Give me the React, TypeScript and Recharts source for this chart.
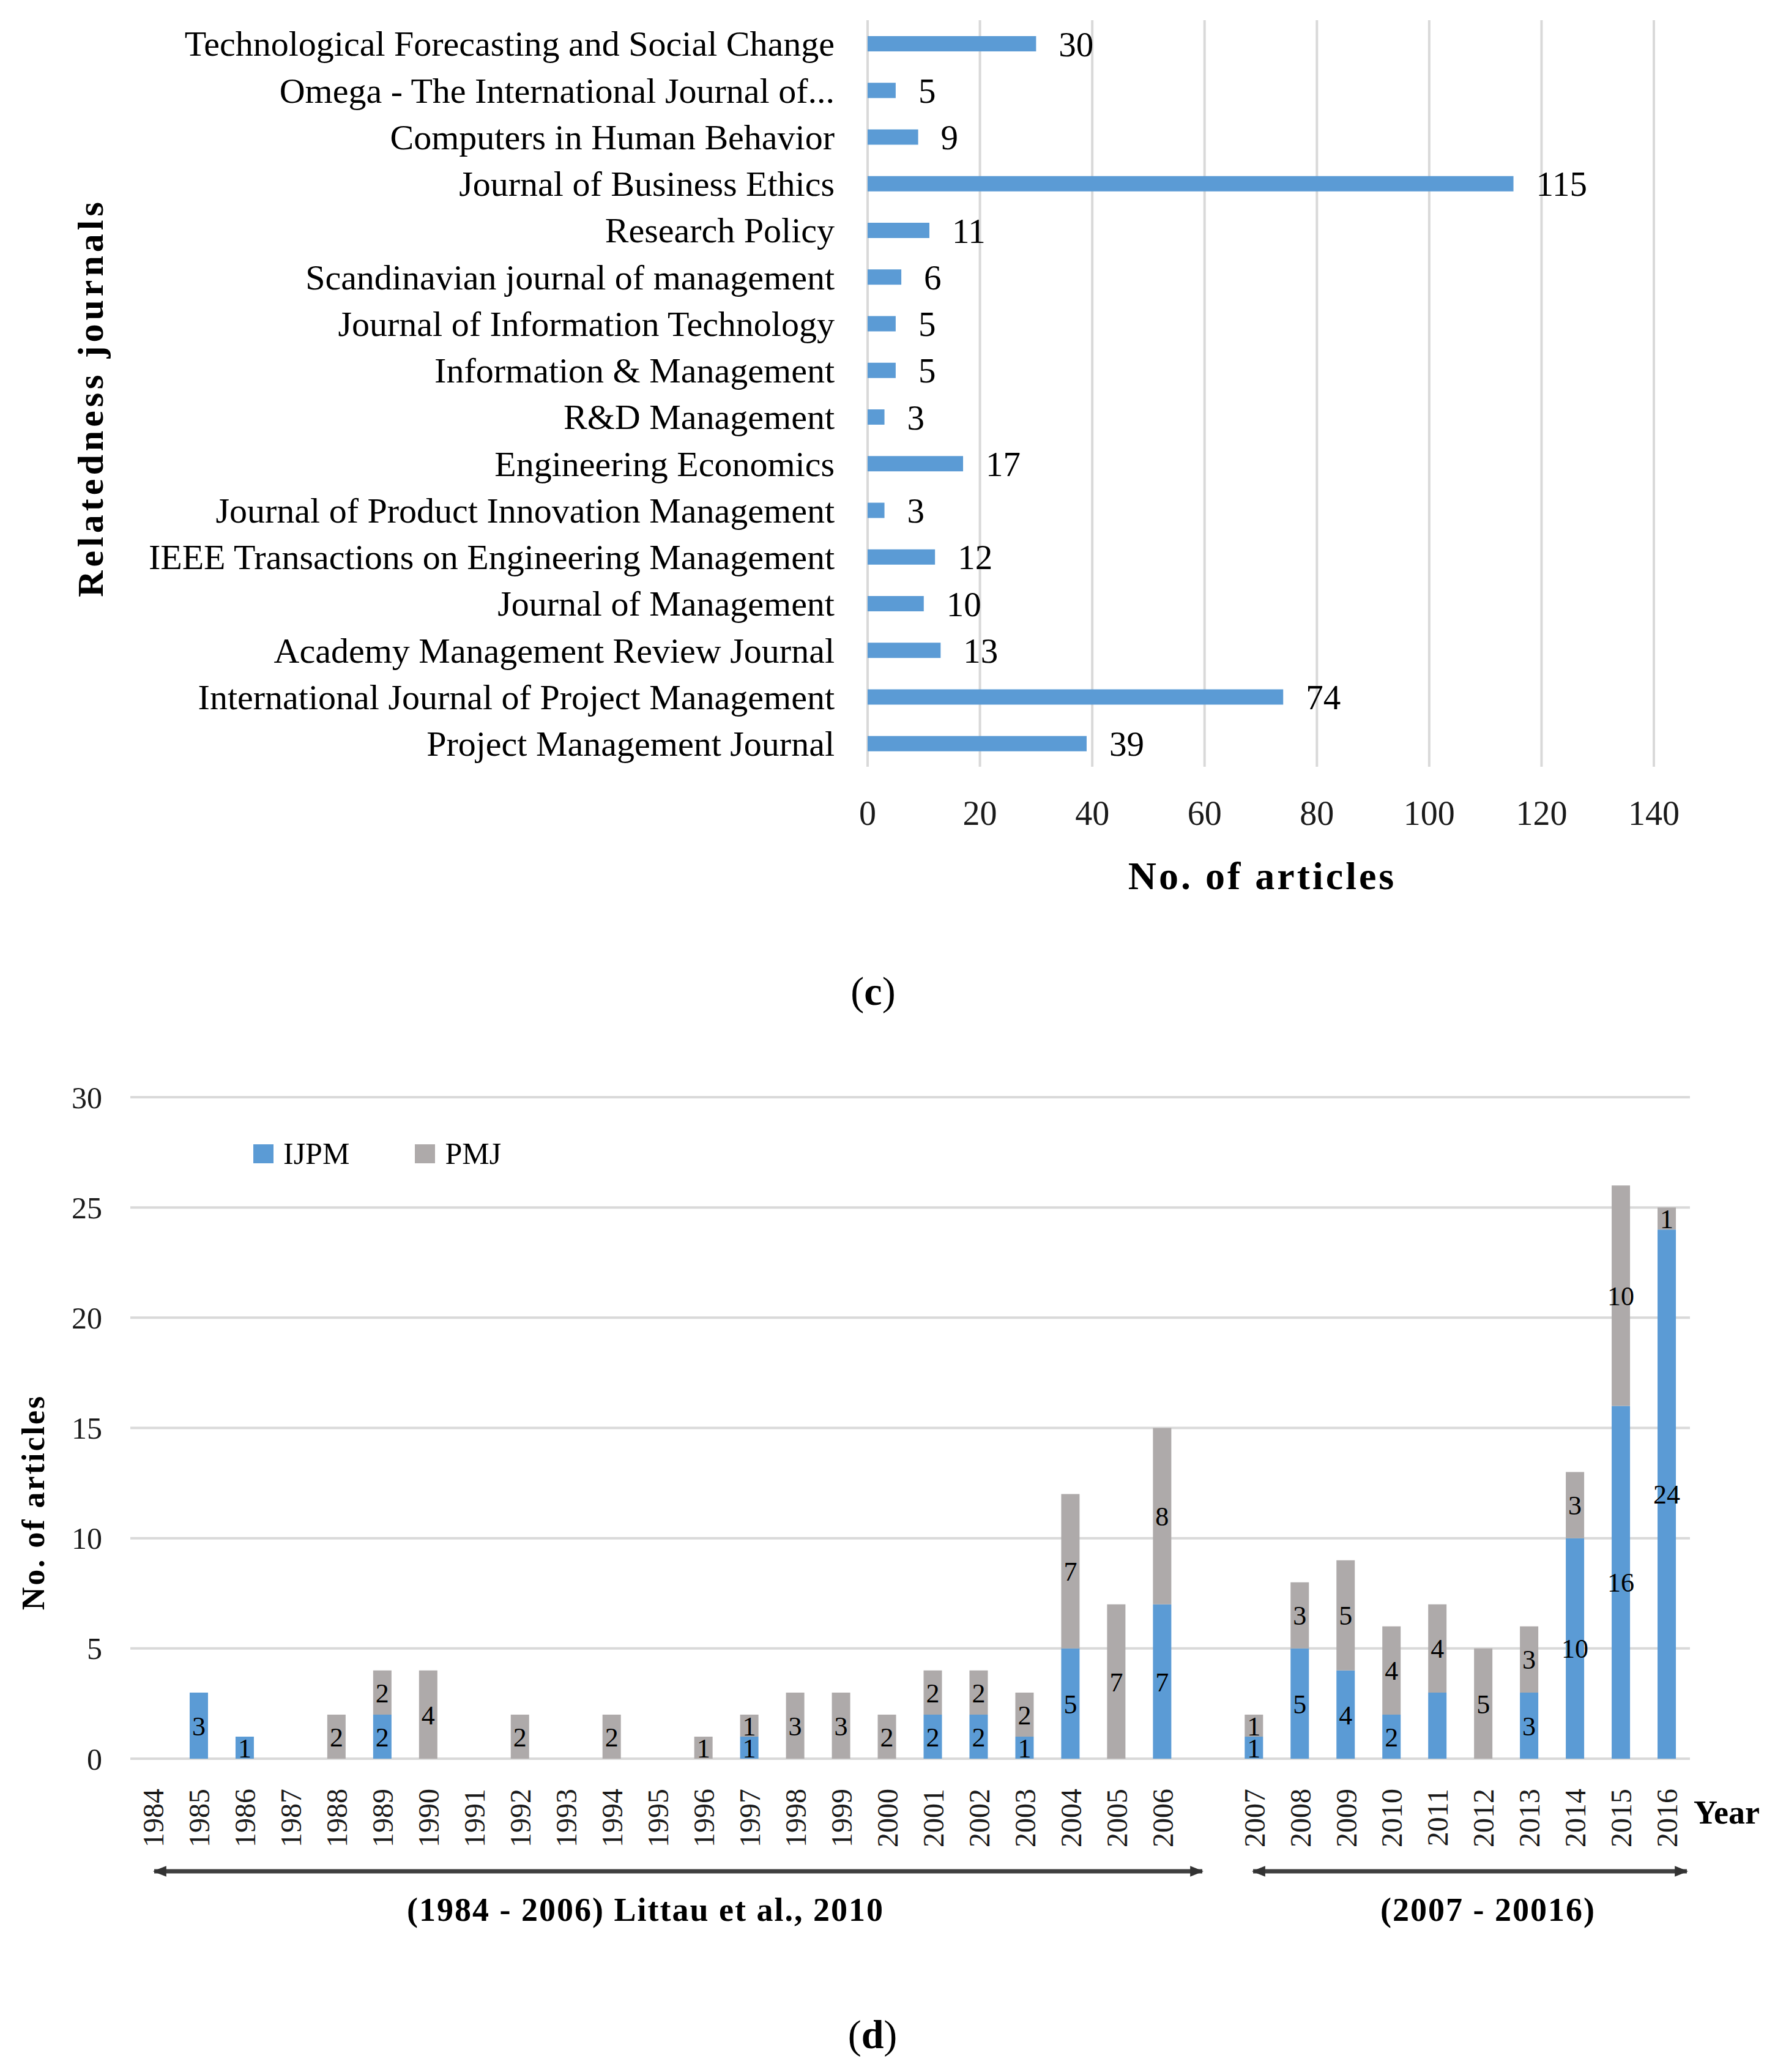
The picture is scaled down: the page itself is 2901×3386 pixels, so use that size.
import React from 'react';
import { BarChart, Bar, XAxis, YAxis, CartesianGrid, LabelList, Legend } from 'recharts';

// ---------- Panel (c) data ----------
const journals = [
  'Technological Forecasting and Social Change',
  'Omega - The International Journal of...',
  'Computers in Human Behavior',
  'Journal of Business Ethics',
  'Research Policy',
  'Scandinavian journal of management',
  'Journal of Information Technology',
  'Information & Management',
  'R&D Management',
  'Engineering Economics',
  'Journal of Product Innovation Management',
  'IEEE Transactions on Engineering Management',
  'Journal of Management',
  'Academy Management Review Journal',
  'International Journal of Project Management',
  'Project Management Journal',
];
const articleCounts = [30, 5, 9, 115, 11, 6, 5, 5, 3, 17, 3, 12, 10, 13, 74, 39];
const countTicks = [0, 20, 40, 60, 80, 100, 120, 140];

// ---------- Panel (d) data ----------
const years = [
  '1984', '1985', '1986', '1987', '1988', '1989', '1990', '1991', '1992', '1993', '1994', '1995',
  '1996', '1997', '1998', '1999', '2000', '2001', '2002', '2003', '2004', '2005', '2006', '',
  '2007', '2008', '2009', '2010', '2011', '2012', '2013', '2014', '2015', '2016',
];
const ijpmCounts = [0, 3, 1, 0, 0, 2, 0, 0, 0, 0, 0, 0, 0, 1, 0, 0, 0, 2, 2, 1, 5, 0, 7, 0, 1, 5, 4, 2, 3, 0, 3, 10, 16, 24];
const pmjCounts = [0, 0, 0, 0, 2, 2, 4, 0, 2, 0, 2, 0, 1, 1, 3, 3, 2, 2, 2, 2, 7, 7, 8, 0, 1, 3, 5, 4, 4, 5, 3, 3, 10, 1];
const unlabeledIjpmYears = ['2011'];
const yearTicks = [0, 5, 10, 15, 20, 25, 30];

const FONT = '"Liberation Serif", "Times New Roman", serif';
const BLUE = '#5B9BD5';
const GRAY = '#AEAAAA';
const GRID = '#D9D9D9';

const journalData = journals.map((name, i) => ({ name, count: articleCounts[i] }));
const yearData = years.map((year, i) => ({
  year,
  IJPM: ijpmCounts[i],
  PMJ: pmjCounts[i],
  ijpmLabel: ijpmCounts[i] > 0 && !unlabeledIjpmYears.includes(year) ? ijpmCounts[i] : null,
  pmjLabel: pmjCounts[i] > 0 ? pmjCounts[i] : null,
}));

const JournalTick = (props: any) => {
  const { x, y, payload } = props;
  return (
    <text x={x} y={y} textAnchor="end" dy="0.35em" fontSize={58} fontFamily={FONT} fill="#000">
      {payload.value}
    </text>
  );
};

const CountTick = (props: any) => {
  const { x, y, payload } = props;
  return (
    <text x={x} y={y} textAnchor="middle" dy="0.71em" fontSize={56} fontFamily={FONT} fill="#1a1a1a">
      {payload.value}
    </text>
  );
};

const YearTick = (props: any) => {
  const { x, y, payload } = props;
  return (
    <text
      x={x}
      y={y}
      transform={`rotate(-90 ${x} ${y})`}
      textAnchor="end"
      dy="0.35em"
      fontSize={48}
      fontFamily={FONT}
      fill="#1a1a1a"
    >
      {payload.value}
    </text>
  );
};

const ValueTick = (props: any) => {
  const { x, y, payload } = props;
  return (
    <text x={x} y={y} textAnchor="end" dy="0.35em" fontSize={50} fontFamily={FONT} fill="#1a1a1a">
      {payload.value}
    </text>
  );
};

const LegendContent = (props: any) => {
  const { payload } = props;
  return (
    <div style={{ display: 'flex', alignItems: 'center', height: 50, fontFamily: FONT, fontSize: 50, color: '#000' }}>
      {(payload || []).map((p: any) => (
        <div key={p.value} style={{ display: 'flex', alignItems: 'center', marginRight: 107 }}>
          <span style={{ display: 'inline-block', width: 33, height: 31, background: p.color, marginRight: 16 }} />
          <span style={{ lineHeight: 1 }}>{p.value}</span>
        </div>
      ))}
    </div>
  );
};

export default function App() {
  return (
    <div style={{ position: 'absolute', left: 0, top: 0, width: 2901, height: 3386, background: '#fff', overflow: 'hidden' }}>
      {/* Panel (c) */}
      <div style={{ position: 'absolute', left: 0, top: 0 }}>
        <BarChart
          width={2901}
          height={1500}
          data={journalData}
          layout="vertical"
          margin={{ top: 33, right: 198, bottom: 0, left: 0 }}
          barSize={25}
        >
          <CartesianGrid horizontal={false} stroke={GRID} strokeWidth={4} />
          <XAxis
            type="number"
            domain={[0, 140]}
            ticks={countTicks}
            axisLine={false}
            tickLine={false}
            tickSize={0}
            tickMargin={55}
            height={247}
            tick={<CountTick />}
          />
          <YAxis
            type="category"
            dataKey="name"
            width={1418}
            axisLine={false}
            tickLine={false}
            tickSize={0}
            tickMargin={54}
            interval={0}
            tick={<JournalTick />}
          />
          <Bar dataKey="count" fill={BLUE} isAnimationActive={false}>
            <LabelList dataKey="count" position="right" offset={37} fontSize={57} fontFamily={FONT} fill="#000" />
          </Bar>
        </BarChart>
      </div>

      {/* Panel (d) */}
      <div style={{ position: 'absolute', left: 0, top: 1700 }}>
        <BarChart
          width={2901}
          height={1686}
          data={yearData}
          margin={{ top: 93, right: 139, bottom: 312, left: 0 }}
          barSize={30}
        >
          <CartesianGrid vertical={false} stroke={GRID} strokeWidth={4} />
          <XAxis
            dataKey="year"
            type="category"
            interval={0}
            axisLine={false}
            tickLine={false}
            tickSize={0}
            tickMargin={49}
            height={200}
            tick={<YearTick />}
          />
          <YAxis
            type="number"
            domain={[0, 30]}
            ticks={yearTicks}
            width={213}
            axisLine={false}
            tickLine={false}
            tickSize={0}
            tickMargin={46}
            tick={<ValueTick />}
          />
          <Legend
            layout="horizontal"
            verticalAlign="middle"
            align="center"
            content={<LegendContent />}
            wrapperStyle={{ left: 414, top: 160, width: 'auto' }}
          />
          <Bar dataKey="IJPM" stackId="a" fill={BLUE} isAnimationActive={false}>
            <LabelList dataKey="ijpmLabel" position="center" fontSize={44} fontFamily={FONT} fill="#000" />
          </Bar>
          <Bar dataKey="PMJ" stackId="a" fill={GRAY} isAnimationActive={false}>
            <LabelList dataKey="pmjLabel" position="center" fontSize={44} fontFamily={FONT} fill="#000" />
          </Bar>
        </BarChart>
      </div>

      {/* Titles, captions and period annotations */}
      <svg
        width={2901}
        height={3386}
        style={{ position: 'absolute', left: 0, top: 0, pointerEvents: 'none' }}
        fontFamily={FONT}
      >
        <defs>
          <marker id="arr" viewBox="0 0 10 10" refX="9" refY="5" markerWidth="22" markerHeight="22" markerUnits="userSpaceOnUse" orient="auto-start-reverse">
            <path d="M0,1 L10,5 L0,9 z" fill="#333" />
          </marker>
        </defs>
        <text
          x={147}
          y={650}
          transform="rotate(-90 147 650)"
          textAnchor="middle"
          dy="0.35em"
          fontSize={60}
          fontWeight="bold"
          letterSpacing={6}
          fill="#000"
        >
          Relatedness journals
        </text>
        <text x={2063} y={1431} textAnchor="middle" dy="0.35em" fontSize={64} fontWeight="bold" letterSpacing={4} fill="#000">
          No. of articles
        </text>
        <text x={1427} y={1619} textAnchor="middle" dy="0.35em" fontSize={66} fill="#000">
          (<tspan fontWeight="bold">c</tspan>)
        </text>

        <text
          x={54}
          y={2455}
          transform="rotate(-90 54 2455)"
          textAnchor="middle"
          dy="0.35em"
          fontSize={52}
          fontWeight="bold"
          letterSpacing={3}
          fill="#000"
        >
          No. of articles
        </text>
        <text x={2768} y={2961} textAnchor="start" dy="0.35em" fontSize={54} fontWeight="bold" fill="#000">
          Year
        </text>

        <line x1={252} y1={3058} x2={1965} y2={3058} stroke="#404040" strokeWidth={7} markerStart="url(#arr)" markerEnd="url(#arr)" />
        <line x1={2048} y1={3058} x2={2757} y2={3058} stroke="#404040" strokeWidth={7} markerStart="url(#arr)" markerEnd="url(#arr)" />
        <text x={1055} y={3120} textAnchor="middle" dy="0.35em" fontSize={54} fontWeight="bold" letterSpacing={2} fill="#000">
          (1984 - 2006) Littau et al., 2010
        </text>
        <text x={2432} y={3120} textAnchor="middle" dy="0.35em" fontSize={54} fontWeight="bold" letterSpacing={2} fill="#000">
          (2007 - 20016)
        </text>
        <text x={1426} y={3324} textAnchor="middle" dy="0.35em" fontSize={66} fill="#000">
          (<tspan fontWeight="bold">d</tspan>)
        </text>
      </svg>
    </div>
  );
}
